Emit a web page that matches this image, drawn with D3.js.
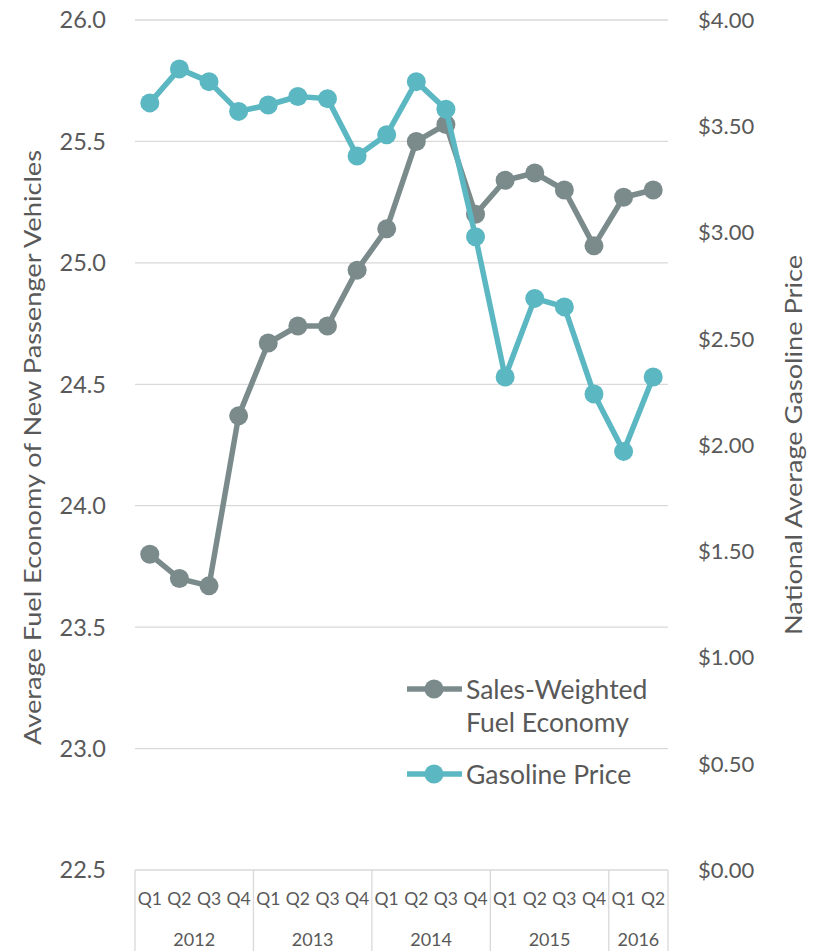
<!DOCTYPE html>
<html><head><meta charset="utf-8">
<script src="https://cdn.jsdelivr.net/npm/d3@7"></script>
<style>body{margin:0;background:#fff}svg{display:block}</style>
</head><body>
<svg id="c" width="817" height="951"></svg>
<script>
const years = ["2012","2013","2014","2015","2016"];
const quarters = ["Q1","Q2","Q3","Q4","Q1","Q2","Q3","Q4","Q1","Q2","Q3","Q4","Q1","Q2","Q3","Q4","Q1","Q2"];
const yearSpans = [4,4,4,4,2];
const fuelEconomy = [23.80,23.70,23.67,24.37,24.67,24.74,24.74,24.97,25.14,25.50,25.57,25.20,25.34,25.37,25.30,25.07,25.27,25.30];
const gasPrice = [3.61,3.77,3.71,3.57,3.60,3.64,3.63,3.36,3.46,3.71,3.58,2.98,2.32,2.69,2.65,2.24,1.97,2.32];
const leftTicks = [22.5,23.0,23.5,24.0,24.5,25.0,25.5,26.0];
const rightTicks = [0,0.5,1,1.5,2,2.5,3,3.5,4];

const svg = d3.select("#c");
const L = 135, R = 668, T = 20, B = 870;
const font = "Lato, 'Open Sans', sans-serif";
const textCol = "#595959", grid = "#d9d9d9";
const cGrey = "#7b8b8c", cTeal = "#5bb7c2";

const x = d3.scaleBand().domain(d3.range(quarters.length)).range([L, R]);
const yL = d3.scaleLinear().domain([22.5, 26]).range([B, T]);
const yR = d3.scaleLinear().domain([0, 4]).range([B, T]);

// gridlines
svg.append("g").selectAll("line").data(leftTicks.slice(1)).join("line")
  .attr("x1", L).attr("x2", R).attr("y1", d => yL(d)).attr("y2", d => yL(d))
  .attr("stroke", grid).attr("stroke-width", 1.3);

// left axis labels
svg.append("g").selectAll("text").data(leftTicks).join("text")
  .attr("x", 106).attr("y", d => yL(d)).attr("dy", "0.36em")
  .attr("text-anchor", "end").attr("font-family", font).attr("font-size", 23.5)
  .attr("fill", textCol).text(d => d3.format(".1f")(d));

// right axis labels
svg.append("g").selectAll("text").data(rightTicks).join("text")
  .attr("x", 698).attr("y", d => yR(d)).attr("dy", "0.36em")
  .attr("text-anchor", "start").attr("font-family", font).attr("font-size", 22)
  .attr("fill", textCol).text(d => "$" + d3.format(".2f")(d));

// axis titles
svg.append("text").attr("transform", `translate(41,${(150+745)/2}) rotate(-90)`)
  .attr("text-anchor", "middle").attr("font-family", font).attr("font-size", 24)
  .attr("textLength", 595).attr("lengthAdjust", "spacingAndGlyphs")
  .attr("fill", textCol).text("Average Fuel Economy of New Passenger Vehicles");
svg.append("text").attr("transform", `translate(802,${(255+635)/2}) rotate(-90)`)
  .attr("text-anchor", "middle").attr("font-family", font).attr("font-size", 24)
  .attr("textLength", 380).attr("lengthAdjust", "spacingAndGlyphs")
  .attr("fill", textCol).text("National Average Gasoline Price");

// x axis
const ax = svg.append("g");
ax.append("line").attr("x1", L).attr("x2", R).attr("y1", B).attr("y2", B).attr("stroke", grid).attr("stroke-width", 1.3);
let idx = 0;
const bounds = [0];
yearSpans.forEach(s => { idx += s; bounds.push(idx); });
const bx = d => d === quarters.length ? R : x(d);
ax.selectAll("line.sep").data(bounds).join("line").attr("class","sep")
  .attr("x1", bx).attr("x2", bx)
  .attr("y1", B).attr("y2", 951).attr("stroke", grid).attr("stroke-width", 1.3);
ax.selectAll("text.q").data(quarters).join("text").attr("class","q")
  .attr("x", (d,i) => x(i) + x.bandwidth()/2).attr("y", 899).attr("dy","0.36em")
  .attr("text-anchor","middle").attr("font-family", font).attr("font-size", 17.5)
  .attr("fill", textCol).text(d => d);
ax.selectAll("text.yr").data(years).join("text").attr("class","yr")
  .attr("x", (d,i) => (bx(bounds[i]) + bx(bounds[i+1]))/2)
  .attr("y", 940).attr("dy","0.36em")
  .attr("text-anchor","middle").attr("font-family", font).attr("font-size", 18)
  .attr("fill", textCol).text(d => d);

// series
function drawSeries(vals, ys, col) {
  const g = svg.append("g");
  g.append("path").datum(vals)
    .attr("d", d3.line().x((d,i) => x(i) + x.bandwidth()/2).y(d => ys(d)))
    .attr("fill","none").attr("stroke", col).attr("stroke-width", 5.5).attr("stroke-linejoin","round");
  g.selectAll("circle").data(vals).join("circle")
    .attr("cx", (d,i) => x(i) + x.bandwidth()/2).attr("cy", d => ys(d)).attr("r", 9.5).attr("fill", col);
}
drawSeries(fuelEconomy, yL, cGrey);
drawSeries(gasPrice, yR, cTeal);

// legend
const lg = svg.append("g");
const legendItems = [
  {col: cGrey, lines: ["Sales-Weighted","Fuel Economy"], y: 689},
  {col: cTeal, lines: ["Gasoline Price"], y: 774}
];
legendItems.forEach(it => {
  lg.append("line").attr("x1", 407).attr("x2", 462).attr("y1", it.y).attr("y2", it.y)
    .attr("stroke", it.col).attr("stroke-width", 5.5);
  lg.append("circle").attr("cx", 434).attr("cy", it.y).attr("r", 9.5).attr("fill", it.col);
  it.lines.forEach((t, k) => {
    lg.append("text").attr("x", 466).attr("y", it.y + k*33).attr("dy","0.36em")
      .attr("font-family", font).attr("font-size", 26.5).attr("fill", textCol).text(t);
  });
});
</script>
</body></html>
